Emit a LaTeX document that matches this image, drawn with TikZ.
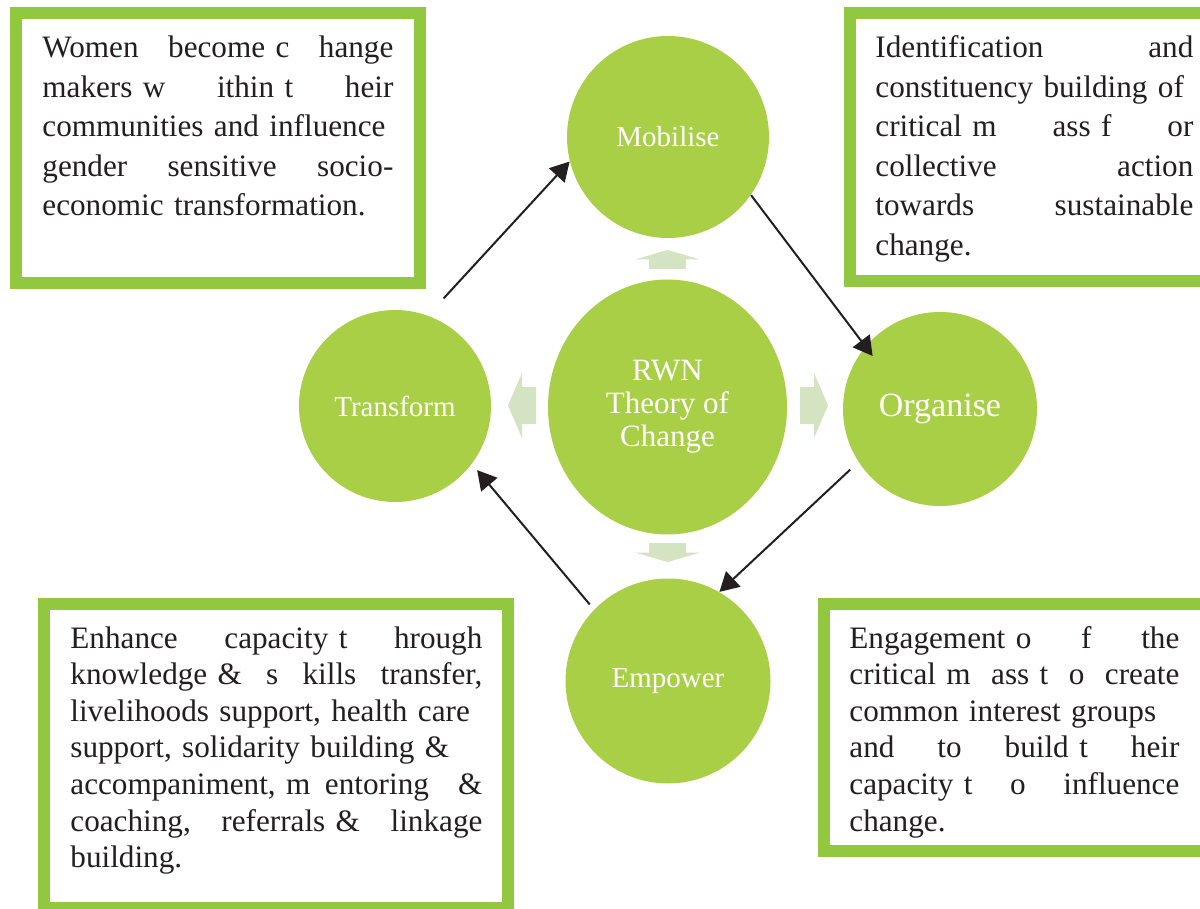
\documentclass[tikz,border=0pt]{standalone}
\usepackage{fontspec}
\setmainfont{Liberation Serif}
\usetikzlibrary{shapes.geometric,arrows.meta,positioning}

\definecolor{leaf}{HTML}{A9CF47}
\definecolor{frame}{HTML}{92C740}
\definecolor{pale}{HTML}{D4E3C1}
\definecolor{ink}{HTML}{231F20}

\begin{document}
\hyphenpenalty=10000
\begin{tikzpicture}[
    x=0.5pt, y=-0.5pt,
    stage/.style={circle, fill=leaf, text=white, inner sep=0pt, font=\fontsize{14.5}{16}\selectfont},
    panel/.style={rectangle, draw=frame, line width=6pt, fill=white, inner sep=0pt},
    blurb/.style={anchor=base west, inner sep=0pt, align=left, text=ink},
    arrow/.style={-{Triangle[length=9.5pt,width=10.5pt]}, line width=1pt, draw=ink},
    blockarrow/.pic={\fill[pale] (0,-18.5) -- (14,-18.5) -- (14,-32.5) -- (28,0) -- (14,32.5) -- (14,18.5) -- (0,18.5) -- cycle;}
]
    \useasboundingbox (0,0) rectangle (1200,909);
    \clip (0,0) rectangle (1200,909);

    % framed notes
    \node[panel, minimum width=202pt, minimum height=135pt] (goalbox) at (218,148) {};
    \node[panel, minimum width=178pt, minimum height=134pt] (mobbox) at (1028,147) {};
    \node[panel, minimum width=191pt, minimum height=123.5pt] (orgbox) at (1015,727.5) {};
    \node[panel, minimum width=232pt, minimum height=152pt] (empbox) at (276,756) {};

    \node[blurb, text width=175.5pt, font=\fontsize{15.6}{19.75}\selectfont] (goal) at (42,58)
        {Women\hfill become c\hfill hange\\
         makers w\hfill ithin t\hfill heir\\
         communities and influence\\
         gender\hfill sensitive\hfill socio-\\
         economic transformation.};
    \node[blurb, text width=159pt, font=\fontsize{15.6}{19.75}\selectfont] (mobtext) at (875,58)
        {Identification\hfill and\\
         constituency building of\\
         critical m\hfill ass f\hfill or\\
         collective\hfill action\\
         towards\hfill sustainable\\
         change.};
    \node[blurb, text width=165pt, font=\fontsize{15.6}{18.3}\selectfont] (orgtext) at (849,648)
        {Engagement o\hfill f\hfill the\\
         critical m\hfill ass t\hfill o\hfill create\\
         common interest groups\\
         and\hfill to\hfill build t\hfill heir\\
         capacity t\hfill o\hfill influence\\
         change.};
    \node[blurb, text width=206pt, font=\fontsize{15.6}{18.3}\selectfont] (emptext) at (70,648)
        {Enhance\hfill capacity t\hfill hrough\\
         knowledge \&\hfill s\hfill kills\hfill transfer,\\
         livelihoods support, health care\\
         support, solidarity building \&\\
         accompaniment, m\hfill entoring\hfill\hfill \&\\
         coaching,\hfill referrals \&\hfill linkage\\
         building.};

    % cycle stages
    \node[ellipse, fill=leaf, text=white, inner sep=0pt, minimum width=119.5pt, minimum height=127.5pt,
          align=center, font=\fontsize{15.5}{16.5}\selectfont] (hub) at (667.5,407) {RWN\\Theory of\\Change};
    \node[stage, minimum size=101pt] (mobilise) at (668,137) {Mobilise};
    \node[stage, minimum size=97pt, font=\fontsize{17}{19}\selectfont] (organise) at (940,409) {Organise};
    \node[stage, minimum size=102.5pt] (empower) at (668,681) {Empower};
    \node[stage, minimum size=96pt] (transform) at (395,406) {Transform};

    % pale arrows round the hub
    \pic[rotate=90, xscale=0.68] at (667.5,269) {blockarrow};
    \pic at (800,405.5) {blockarrow};
    \pic[rotate=-90, xscale=0.68] at (667.5,543) {blockarrow};
    \pic[rotate=180] at (536,405.5) {blockarrow};

    \draw[arrow, shorten <=11.5pt] (transform.70) -- (mobilise.194);
    \draw[arrow, shorten >=-6pt] (mobilise.-35) -- (organise.140);
    \draw[arrow, shorten <=5.5pt] (organise.213) -- (empower.60);
    \draw[arrow, shorten <=3.3pt, shorten >=4pt] (empower.136) -- (transform.-37);
\end{tikzpicture}
\end{document}
